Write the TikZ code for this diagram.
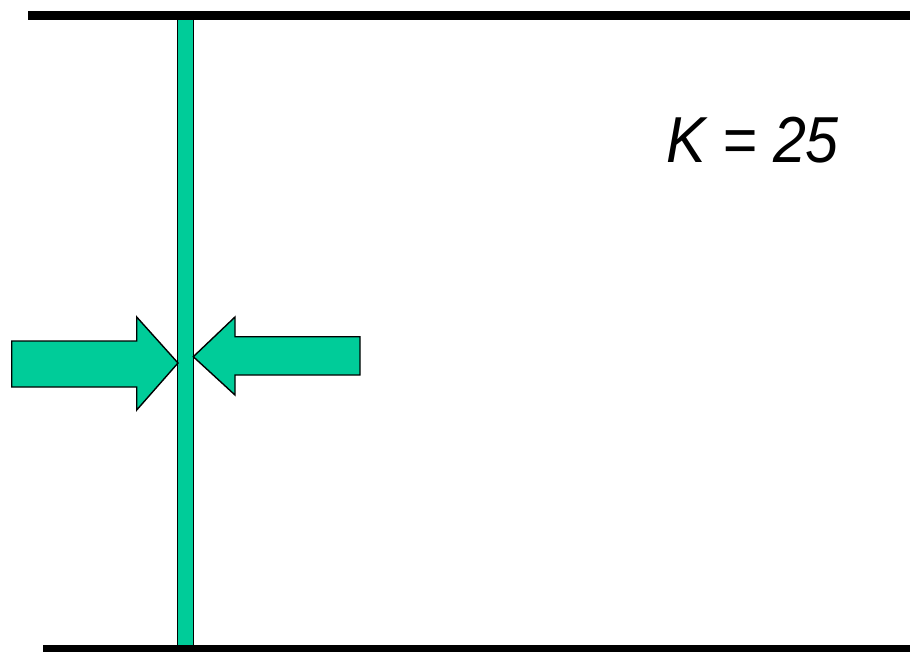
\documentclass[tikz,border=0pt]{standalone}
\usepackage{fontspec}
\setmainfont{Liberation Sans}
\definecolor{tealgreen}{RGB}{0,204,153}
\begin{document}
\begin{tikzpicture}[x=1pt,y=-1pt,
  greenpart/.style={fill=tealgreen,draw=black,line width=1.4pt,line join=miter},
  rail/.style={line width=9pt,black}]
\useasboundingbox (0,0) rectangle (910,651);
% vertical bar
\filldraw[greenpart] (177.7,18) rectangle (193.5,655);
% rails
\coordinate (tl) at (28,15.5);
\coordinate (tr) at (910,15.5);
\coordinate (bl) at (43,649.5);
\coordinate (br) at (910,649.5);
\draw[rail] (tl) -- (tr);
\draw[rail] (bl) -- (br);
% left arrow
\filldraw[greenpart] (11.7,341) -- (136.7,341) -- (136.7,317) -- (178,363) -- (136.7,410) -- (136.7,387) -- (11.7,387) -- cycle;
% right arrow
\filldraw[greenpart] (360,336.7) -- (235,336.7) -- (235,317) -- (193.3,356.7) -- (235,395) -- (235,375) -- (360,375) -- cycle;
% label
\node[anchor=base west,inner sep=0pt,font=\fontsize{65}{70}\selectfont\itshape] (lbl) at (666,162) {\scalebox{0.91}[1]{K = 25}};
\end{tikzpicture}
\end{document}
